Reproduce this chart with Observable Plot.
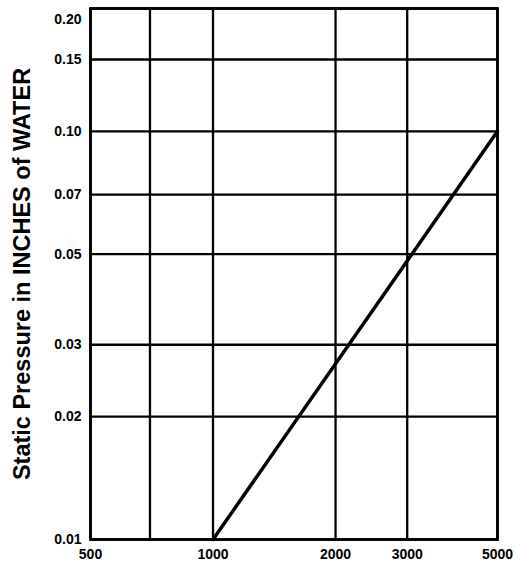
<!DOCTYPE html>
<html>
<head>
<meta charset="utf-8">
<script src="https://cdn.jsdelivr.net/npm/d3@7"></script>
<script src="https://cdn.jsdelivr.net/npm/@observablehq/plot@0.6"></script>
<style>
  html, body { margin: 0; padding: 0; background: white; }
</style>
</head>
<body>
<div id="chart"></div>
<script>
const xTicks = [500, 700, 1000, 2000, 3000, 5000];
const yTicks = [0.01, 0.02, 0.03, 0.05, 0.07, 0.10, 0.15, 0.20];
const flow = [1000, 5000];
const pressure = [0.01, 0.10];
const yLabel = "Static Pressure in INCHES of WATER";

const data = flow.map((f, i) => ({flow: f, pressure: pressure[i]}));
const fmtY = d3.format(".2f");

const chart = Plot.plot({
  width: 515,
  height: 564,
  marginLeft: 90,
  marginRight: 18,
  marginTop: 8,
  marginBottom: 25,
  style: {
    fontFamily: "'Liberation Sans', Arial, Helvetica, sans-serif",
    fontWeight: "bold",
    fontSize: "14px",
    color: "black",
    background: "white"
  },
  x: {type: "log", domain: [500, 5000]},
  y: {type: "log", domain: [0.01, 0.2]},
  marks: [
    Plot.gridX(xTicks, {stroke: "black", strokeOpacity: 1, strokeWidth: 2.3}),
    Plot.gridY(yTicks, {stroke: "black", strokeOpacity: 1, strokeWidth: 2.3}),
    Plot.frame({stroke: "black", strokeWidth: 2.8}),
    Plot.axisX(xTicks, {tickSize: 0, tickPadding: 10, fontSize: 14, fontWeight: "bold", tickFormat: d => String(d), label: null}),
    Plot.axisY(yTicks.filter(d => d < 0.2), {tickSize: 0, tickPadding: 9, fontSize: 14, fontWeight: "bold", tickFormat: fmtY, label: null}),
    Plot.axisY([0.2], {tickSize: 0, tickPadding: 9, fontSize: 14, fontWeight: "bold", tickFormat: fmtY, dy: 11, label: null}),
    Plot.text([yLabel], {frameAnchor: "left", textAnchor: "middle", dx: -68, rotate: -90, fontSize: 23.5, fontWeight: "bold", fill: "black"}),
    Plot.line(data, {x: "flow", y: "pressure", stroke: "black", strokeWidth: 3.5})
  ]
});
document.getElementById("chart").appendChild(chart);
</script>
</body>
</html>
